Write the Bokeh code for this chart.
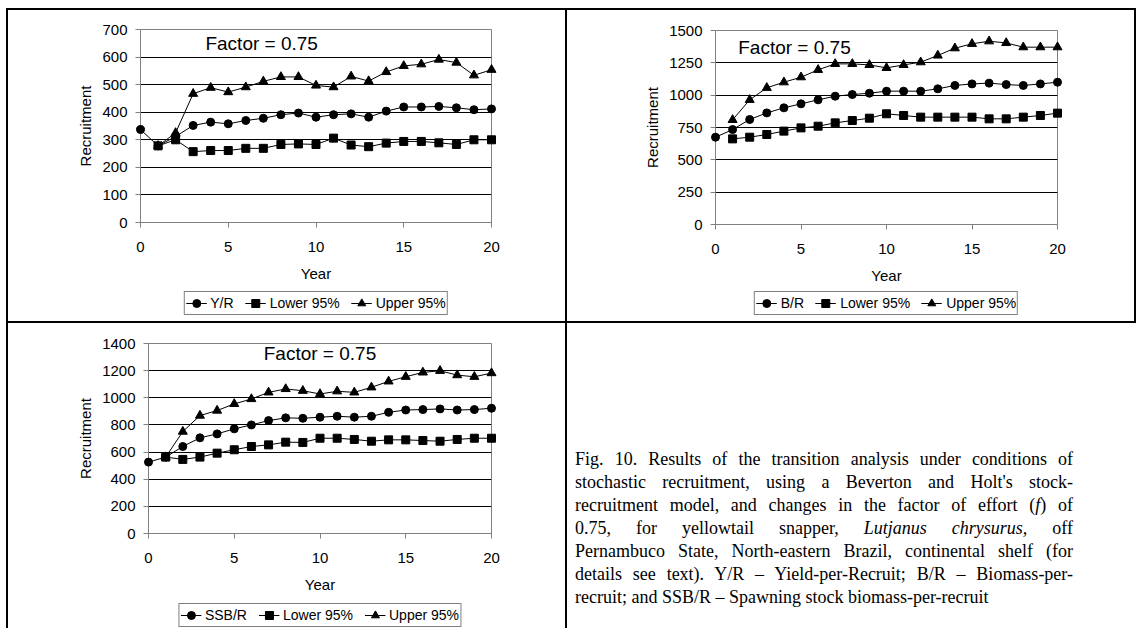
from bokeh.plotting import figure
from bokeh.models import Range1d, FixedTicker, Legend, LegendItem, Label, Div
from bokeh.layouts import row, column
from bokeh.embed import file_html
from bokeh.resources import INLINE

# ---------------- data ----------------
YEARS = [0, 1, 2, 3, 4, 5, 6, 7, 8, 9, 10, 11, 12, 13, 14, 15, 16, 17, 18, 19, 20]
YEARS_CI = [1, 2, 3, 4, 5, 6, 7, 8, 9, 10, 11, 12, 13, 14, 15, 16, 17, 18, 19, 20]
X_TICKS = [0, 5, 10, 15, 20]

YR = [337, 278, 312, 352, 364, 358, 370, 378, 391, 397, 382, 391, 394, 382, 404, 419, 419, 421, 416, 409, 412]
YR_LOWER = [278, 300, 257, 261, 261, 269, 269, 283, 285, 283, 306, 281, 275, 288, 294, 294, 289, 283, 300, 300]
YR_UPPER = [278, 325, 467, 489, 473, 491, 512, 528, 528, 497, 491, 530, 513, 546, 568, 574, 591, 580, 534, 554]
YR_TICKS = [0, 100, 200, 300, 400, 500, 600, 700]

BR = [675, 734, 812, 863, 902, 933, 964, 992, 1005, 1015, 1031, 1031, 1031, 1049, 1075, 1087, 1093, 1082, 1075, 1087, 1100]
BR_LOWER = [662, 675, 696, 722, 747, 760, 786, 804, 822, 856, 843, 830, 830, 830, 830, 817, 817, 830, 843, 861]
BR_UPPER = [809, 964, 1057, 1100, 1139, 1196, 1242, 1242, 1234, 1211, 1234, 1255, 1307, 1363, 1397, 1417, 1404, 1371, 1371, 1371]
BR_TICKS = [0, 250, 500, 750, 1000, 1250, 1500]

SSBR = [526, 563, 641, 705, 734, 771, 800, 832, 852, 849, 857, 864, 857, 864, 893, 910, 913, 918, 910, 913, 923]
SSBR_LOWER = [563, 546, 563, 592, 617, 641, 653, 673, 671, 702, 702, 693, 680, 690, 690, 685, 680, 693, 702, 702]
SSBR_UPPER = [563, 751, 869, 906, 955, 991, 1040, 1065, 1052, 1028, 1048, 1040, 1077, 1121, 1155, 1187, 1199, 1167, 1155, 1182]
SSBR_TICKS = [0, 200, 400, 600, 800, 1000, 1200, 1400]

SERIES_LOWER = "Lower 95%"
SERIES_UPPER = "Upper 95%"
FACTOR_TEXT = "Factor = 0.75"
CAPTION_LINES = [
    "Fig. 10. Results of the transition analysis under conditions of",
    "stochastic recruitment, using a Beverton and Holt's stock-",
    "recruitment model, and changes in the factor of effort (<i>f</i>) of",
    "0.75, for yellowtail snapper, <i>Lutjanus chrysurus,</i> off",
    "Pernambuco State, North-eastern Brazil, continental shelf (for",
    "details see text). Y/R &ndash; Yield-per-Recruit; B/R &ndash; Biomass-per-",
    "recruit; and SSB/R &ndash; Spawning stock biomass-per-recruit",
]

FONT = "Liberation Sans"
GRAY = "#808080"
MARKERS = [("circle", 8), ("square", 8), ("triangle", 9)]


def add_series(p, xs, ys, marker, size, level):
    rl = p.line(xs, ys, line_color="black", line_width=1, level=level)
    rs = p.scatter(xs, ys, marker=marker, size=size, fill_color="black",
                   line_color="black", level=level)
    return [rl, rs]


def make_chart(width, height, left, right, top, bottom, yticks, main, lower, upper, fx, fy):
    ymax = yticks[-1]
    p = figure(width=width, height=height, output_backend="svg", toolbar_location=None,
               tools="", x_range=Range1d(0, 20), y_range=Range1d(0, ymax),
               min_border_left=left, min_border_right=right,
               min_border_top=top, min_border_bottom=bottom)
    p.margin = 0
    p.background_fill_color = "white"
    p.border_fill_color = "white"
    p.outline_line_color = GRAY
    p.outline_line_width = 1

    p.xgrid.visible = False
    p.ygrid.ticker = FixedTicker(ticks=yticks[1:-1])
    p.ygrid.grid_line_color = "black"
    p.ygrid.grid_line_width = 1

    for ax in (p.xaxis, p.yaxis):
        ax.axis_line_color = GRAY
        ax.major_tick_line_color = GRAY
        ax.major_tick_in = 0
        ax.major_tick_out = 5
        ax.minor_tick_line_color = None
        ax.major_label_text_font = FONT
        ax.major_label_text_font_size = "15px"
        ax.major_label_text_color = "black"
        ax.axis_label_text_font = FONT
        ax.axis_label_text_font_size = "15px"
        ax.axis_label_text_font_style = "normal"
        ax.axis_label_text_color = "black"

    p.xaxis.ticker = FixedTicker(ticks=X_TICKS)
    p.yaxis.ticker = FixedTicker(ticks=yticks)
    p.xaxis.axis_label = "Year"
    p.yaxis.axis_label = "Recruitment"
    p.xaxis.major_label_standoff = 14
    p.xaxis.axis_label_standoff = 10
    p.yaxis.major_label_standoff = 8
    p.yaxis.axis_label_standoff = 5

    add_series(p, YEARS, main, *MARKERS[0], "overlay")
    add_series(p, YEARS_CI, lower, *MARKERS[1], "overlay")
    add_series(p, YEARS_CI, upper, *MARKERS[2], "overlay")

    p.add_layout(Label(x=fx, y=fy, text=FACTOR_TEXT, text_font=FONT,
                       text_font_size="19px", text_baseline="middle", text_color="black"))
    return p


def make_legend_fig(width, height, left, right, main_name, series, top_margin):
    # legend-only strip under a chart: the series are plotted far outside its
    # (clipped) frame so that only the legend entries show
    q = figure(width=width, height=height, output_backend="svg", toolbar_location=None,
               tools="", x_range=Range1d(-200, -199), y_range=Range1d(-200, -199),
               x_axis_location=None, y_axis_location=None,
               min_border_left=left, min_border_right=right,
               min_border_top=0, min_border_bottom=0)
    q.margin = 0
    q.xgrid.visible = False
    q.ygrid.visible = False
    q.outline_line_color = None
    q.background_fill_color = "white"
    q.border_fill_color = "white"
    items = []
    names = [main_name, SERIES_LOWER, SERIES_UPPER]
    xs_list = [YEARS, YEARS_CI, YEARS_CI]
    for name, xs, ys, (marker, size) in zip(names, xs_list, series, MARKERS):
        items.append(LegendItem(label=name, renderers=add_series(q, xs, ys, marker, size, "glyph")))
    legend = Legend(items=items, location="top_center", orientation="horizontal")
    legend.margin = top_margin
    legend.padding = 1
    legend.spacing = 11
    legend.glyph_width = 21
    legend.glyph_height = 20
    legend.label_height = 14
    legend.label_standoff = 4
    legend.label_text_font = FONT
    legend.label_text_font_size = "14px"
    legend.label_text_color = "black"
    legend.label_text_baseline = "middle"
    legend.border_line_color = "black"
    legend.border_line_width = 1
    legend.background_fill_color = "white"
    legend.background_fill_alpha = 1
    legend.inactive_fill_alpha = 0
    legend.click_policy = "none"
    q.add_layout(legend)
    return q


def black(w, h):
    return Div(width=w, height=h, margin=0, styles={"background-color": "black"})


def spacer(w, h):
    return Div(width=w, height=h, margin=0)


p1 = make_chart(557, 278, 132, 74, 19, 66, YR_TICKS, YR, YR_LOWER, YR_UPPER, 3.7, 650)
l1 = make_legend_fig(557, 33, 132, 74, "Y/R", [YR, YR_LOWER, YR_UPPER], 3)
p2 = make_chart(567, 278, 148, 77, 20, 64, BR_TICKS, BR, BR_LOWER, BR_UPPER, 1.33, 1371)
l2 = make_legend_fig(567, 33, 148, 77, "B/R", [BR, BR_LOWER, BR_UPPER], 3)
p3 = make_chart(557, 277, 140, 74, 20, 67, SSBR_TICKS, SSBR, SSBR_LOWER, SSBR_UPPER, 6.72, 1324)
l3 = make_legend_fig(557, 28, 140, 74, "SSB/R", [SSBR, SSBR_LOWER, SSBR_UPPER], 3)

lines_html = []
for i, ln in enumerate(CAPTION_LINES):
    last = "left" if i == len(CAPTION_LINES) - 1 else "justify"
    lines_html.append('<div style="text-align:justify;text-align-last:%s;white-space:nowrap;">%s</div>'
                      % (last, ln))
caption_html = ('<div style="position:absolute;top:125px;left:8px;width:498px;'
                "font-family:'Liberation Serif';font-size:18px;line-height:23px;color:black;\">"
                + "".join(lines_html) + "</div>")
caption = Div(text=caption_html, width=567, height=305, margin=0,
              styles={"position": "relative", "background-color": "white"})

TOTAL_W = 2 + 557 + 2 + 567 + 2
table = column(
    black(TOTAL_W, 2),
    row(black(2, 311), column(p1, l1, spacing=0), black(2, 311),
        column(p2, l2, spacing=0), black(2, 311), spacing=0),
    black(TOTAL_W, 2),
    row(black(2, 305), column(p3, l3, spacing=0), black(2, 305), caption, spacing=0),
    spacing=0,
)
layout = column(spacer(TOTAL_W + 6, 8), row(spacer(6, 628 - 8), table, spacing=0), spacing=0)

open("out.html", "w").write(file_html(layout, INLINE))
